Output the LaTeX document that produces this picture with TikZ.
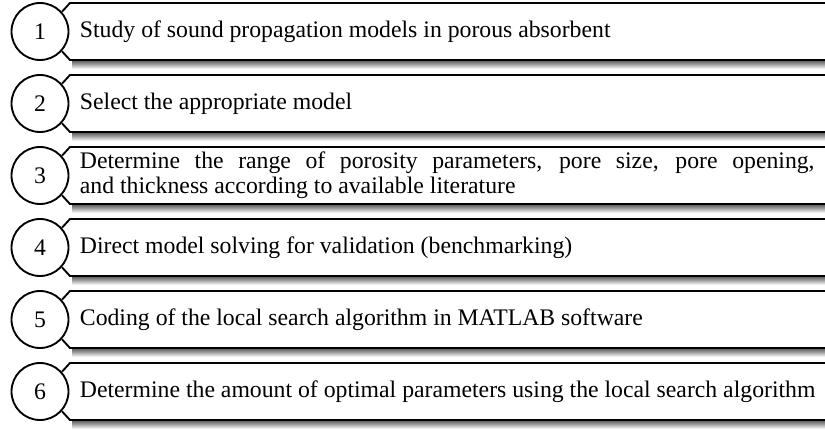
\documentclass[tikz,border=0pt]{standalone}
\usepackage{fontspec}
\setmainfont{Liberation Serif}

\tikzset{every picture/.style={line width=1.4pt}}
\tikzset{
  stepnum/.style={draw, circle, minimum size=42.75pt, inner sep=0pt, font=\fontsize{17.8}{21}\selectfont},
  stepbox/.style={draw, line join=miter},
  stepshade/.style={top color=black!60, bottom color=white, draw=none},
  steptext/.style={anchor=west, inner sep=0.75pt, font=\fontsize{17.8}{19}\selectfont}
}

\begin{document}
\begin{tikzpicture}[x=0.75pt,y=0.75pt,yscale=-1,xscale=1]
%set diagram to 825 x 432
\clip (0,0) rectangle (825,432);

%Shape: Circles
\node[stepnum] (c1) at (40,31.5) {1};
\node[stepnum] (c2) at (40,103.5) {2};
\node[stepnum] (c3) at (40,175.5) {3};
\node[stepnum] (c4) at (40,247.5) {4};
\node[stepnum] (c5) at (40,319.5) {5};
\node[stepnum] (c6) at (40,391.5) {6};

%Shadows under the boxes
\shade[stepshade] (72,61) rectangle (830,69);
\shade[stepshade] (72,133) rectangle (830,141);
\shade[stepshade] (72,205) rectangle (830,213);
\shade[stepshade] (72,277) rectangle (830,285);
\shade[stepshade] (72,349) rectangle (830,357);
\shade[stepshade] (72,421) rectangle (830,429);

%Boxes, left side cut round the circle
\draw[stepbox] (c1.42) -- (70,3) -- (830,3) (830,60) -- (70,60) -- (c1.-42);
\draw[stepbox] (c2.42) -- (70,75) -- (830,75) (830,132) -- (70,132) -- (c2.-42);
\draw[stepbox] (c3.42) -- (70,147) -- (830,147) (830,204) -- (70,204) -- (c3.-42);
\draw[stepbox] (c4.42) -- (70,219) -- (830,219) (830,276) -- (70,276) -- (c4.-42);
\draw[stepbox] (c5.42) -- (70,291) -- (830,291) (830,348) -- (70,348) -- (c5.-42);
\draw[stepbox] (c6.42) -- (70,363) -- (830,363) (830,420) -- (70,420) -- (c6.-42);

% Text Nodes
\node[steptext] (t1) at (78,31.5) {Study of sound propagation models in porous absorbent};
\node[steptext] (t2) at (78,103.5) {Select the appropriate model};
\node[steptext, text width=551pt, align=justify] (t3) at (78,175.5) {Determine the range of porosity parameters, pore size, pore opening,\linebreak and thickness according to available literature};
\node[steptext] (t4) at (78,247.5) {Direct model solving for validation (benchmarking)};
\node[steptext] (t5) at (78,319.5) {Coding of the local search algorithm in MATLAB software};
\node[steptext] (t6) at (78,391.5) {Determine the amount of optimal parameters using the local search algorithm};

\end{tikzpicture}
\end{document}
